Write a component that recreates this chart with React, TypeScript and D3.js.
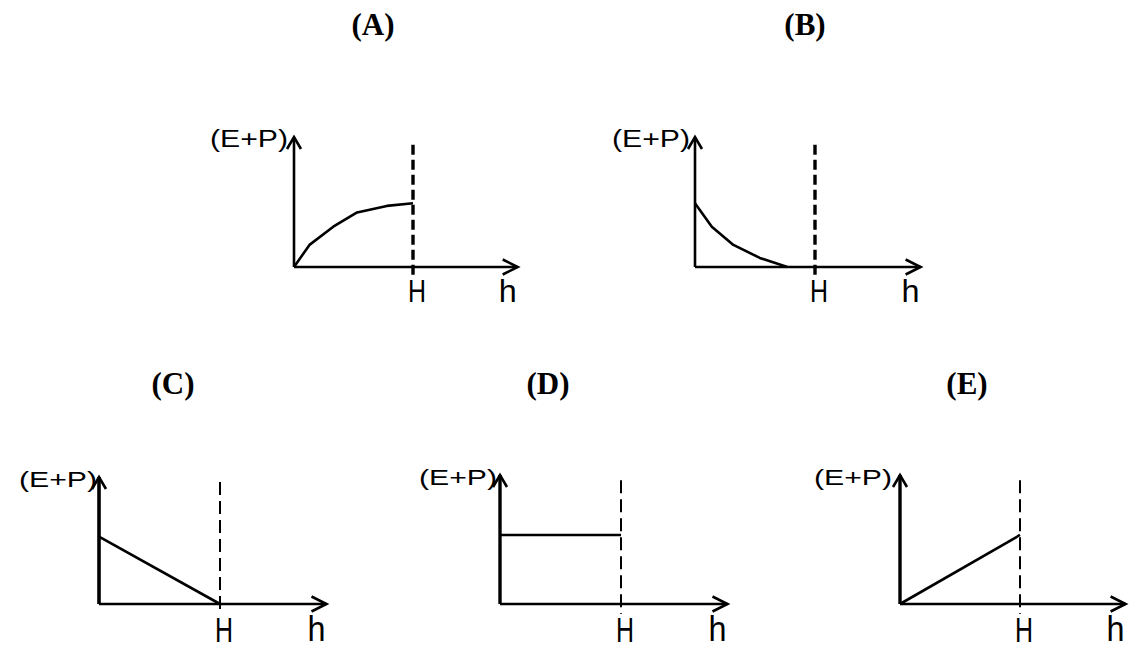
import React from "react";
import * as d3 from "d3";

// ---- data (x in units of H, y as fraction of the axis height) ----
const panelNames = ["(A)", "(B)", "(C)", "(D)", "(E)"];
const yLabel = "(E+P)";
const hMarkLabel = "H";
const xLabel = "h";

const curveA_x = [0, 0.13, 0.33, 0.53, 0.78, 1.0];
const curveA_y = [0, 0.17, 0.31, 0.42, 0.47, 0.49];

const curveB_x = [0, 0.14, 0.32, 0.54, 0.77];
const curveB_y = [0.49, 0.31, 0.17, 0.07, 0];

const curveC_x = [0, 1];
const curveC_y = [0.53, 0];

const curveD_x = [0, 1];
const curveD_y = [0.535, 0.535];

const curveE_x = [0, 1];
const curveE_y = [0, 0.535];

const xMax = 1.88; // axis end, in units of H
const dashTop = [0.94, 0.94, 0.96, 0.96, 0.96];

// ---- layout ----
type Layout = {
  ox: number; oy: number; hw: number; ah: number;
  titleX: number; titleY: number;
  yAxisW: number; xAxisW: number; curveW: number; dashW: number; dash: string;
  labelFs: number; hFs: number; labelDx: number;
};
const layouts: Layout[] = [
  { ox: 294, oy: 267, hw: 119, ah: 130, titleX: 373, titleY: 35, yAxisW: 2.6, xAxisW: 2.6, curveW: 2.6, dashW: 3.4, dash: "10 5", labelFs: 23, hFs: 31, labelDx: 6 },
  { ox: 695, oy: 267, hw: 120, ah: 130, titleX: 805, titleY: 35, yAxisW: 2.6, xAxisW: 2.6, curveW: 2.6, dashW: 3.4, dash: "10 5", labelFs: 23, hFs: 31, labelDx: 5 },
  { ox: 99, oy: 604, hw: 121, ah: 127, titleX: 173, titleY: 394, yAxisW: 3.6, xAxisW: 2.6, curveW: 2.6, dashW: 2, dash: "13 6", labelFs: 22, hFs: 35, labelDx: 2 },
  { ox: 500, oy: 604, hw: 121, ah: 129, titleX: 548, titleY: 394, yAxisW: 3.4, xAxisW: 2.6, curveW: 2.6, dashW: 2, dash: "13 6", labelFs: 22, hFs: 35, labelDx: 3 },
  { ox: 900, oy: 604, hw: 120, ah: 129, titleX: 967, titleY: 394, yAxisW: 3.4, xAxisW: 2.6, curveW: 2.6, dashW: 2, dash: "13 6", labelFs: 22, hFs: 35, labelDx: 8 },
];

const curvesX = [curveA_x, curveB_x, curveC_x, curveD_x, curveE_x];
const curvesY = [curveA_y, curveB_y, curveC_y, curveD_y, curveE_y];

const sansFont = "'Liberation Sans', Arial, sans-serif";
const serifFont = "'Liberation Serif', 'Times New Roman', serif";

function Panel({ i }: { i: number }) {
  const L = layouts[i];
  const x = d3.scaleLinear().domain([0, 1]).range([L.ox, L.ox + L.hw]);
  const y = d3.scaleLinear().domain([0, 1]).range([L.oy, L.oy - L.ah]);
  const pts: [number, number][] = curvesX[i].map((v, k) => [v, curvesY[i][k]]);
  const line = d3
    .line<[number, number]>()
    .x((d) => x(d[0]))
    .y((d) => y(d[1]))
    .curve(d3.curveLinear);

  const tipX = x(xMax);
  const topY = y(1);
  const hx = x(1);

  return (
    <g>
      <text
        x={L.titleX}
        y={L.titleY}
        textAnchor="middle"
        fontFamily={serifFont}
        fontWeight="bold"
        fontSize={31}
      >
        {panelNames[i]}
      </text>
      {/* dashed H line */}
      <line
        x1={hx}
        x2={hx}
        y1={y(dashTop[i])}
        y2={L.oy + 10}
        stroke="#000"
        strokeWidth={L.dashW}
        strokeDasharray={L.dash}
      />
      {/* axes */}
      <line x1={L.ox} x2={L.ox} y1={L.oy} y2={topY} stroke="#000" strokeWidth={L.yAxisW} />
      <polyline
        points={`${L.ox - 7},${topY + 12} ${L.ox},${topY} ${L.ox + 7},${topY + 12}`}
        fill="none"
        stroke="#000"
        strokeWidth={2.6}
      />
      <line x1={L.ox} x2={tipX} y1={L.oy} y2={L.oy} stroke="#000" strokeWidth={L.xAxisW} />
      <polyline
        points={`${tipX - 15},${L.oy - 7.5} ${tipX},${L.oy} ${tipX - 15},${L.oy + 7.5}`}
        fill="none"
        stroke="#000"
        strokeWidth={2.6}
      />
      {/* curve */}
      <path d={line(pts) || ""} fill="none" stroke="#000" strokeWidth={L.curveW} strokeLinejoin="round" />
      {/* labels */}
      <text
        x={L.ox - L.labelDx}
        y={topY + 10}
        textAnchor="end"
        fontFamily={sansFont}
        fontSize={L.labelFs}
        textLength={78}
        lengthAdjust="spacingAndGlyphs"
      >
        {yLabel}
      </text>
      <text
        x={hx + 4}
        y={L.oy + (i < 2 ? 35 : 38)}
        textAnchor="middle"
        fontFamily={sansFont}
        fontSize={L.hFs}
        textLength={18}
        lengthAdjust="spacingAndGlyphs"
      >
        {hMarkLabel}
      </text>
      <text
        x={tipX - 1}
        y={L.oy + (i < 2 ? 35 : 37)}
        textAnchor="end"
        fontFamily={sansFont}
        fontSize={L.hFs}
        textLength={18}
        lengthAdjust="spacingAndGlyphs"
      >
        {xLabel}
      </text>
    </g>
  );
}

export default function App() {
  return (
    <svg
      width={1146}
      height={661}
      viewBox="0 0 1146 661"
      style={{ position: "absolute", left: 0, top: 0, background: "#fff" }}
    >
      <rect x={0} y={0} width={1146} height={661} fill="#fff" />
      {layouts.map((_, i) => (
        <Panel key={i} i={i} />
      ))}
    </svg>
  );
}
